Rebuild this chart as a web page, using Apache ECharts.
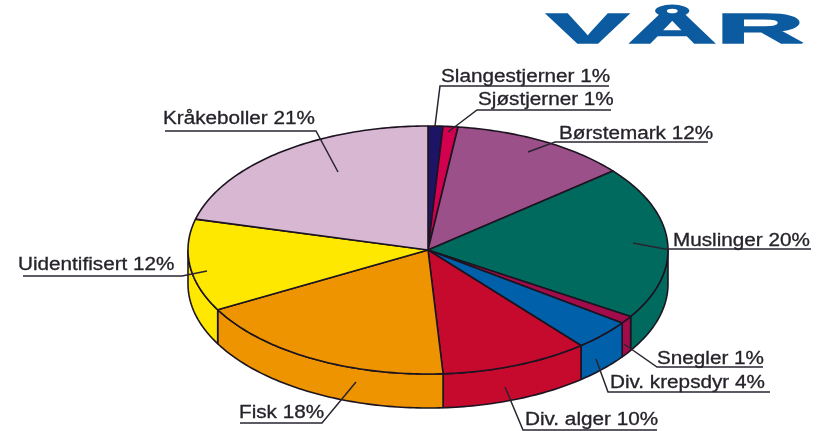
<!DOCTYPE html>
<html>
<head>
<meta charset="utf-8">
<style>
html, body { margin: 0; padding: 0; background: #fff; }
#chart { width: 821px; height: 431px; }
</style>
<script src="https://cdn.jsdelivr.net/npm/echarts@6/dist/echarts.min.js"></script>
</head>
<body>
<div id="chart"></div>
<script>
var names = ['Slangestjerner', 'Sjøstjerner', 'Børstemark', 'Muslinger', 'Snegler',
    'Div. krepsdyr', 'Div. alger', 'Fisk', 'Uidentifisert', 'Kråkeboller'];
var shares = [1, 1, 12, 20, 1, 4, 10, 18, 12, 21];
var colors = ['#1d1466', '#d3004f', '#9c5089', '#006a5f', '#a20c4b',
    '#0060a9', '#c60a2e', '#ee9400', '#ffe800', '#d8b7d3'];

// pie geometry, tilted by hand since echarts has no 3d pie
var cx = 428, cy = 250, rx = 240, ry = 124, depth = 34;
var lineColor = '#1c1420';
var total = shares.reduce(function (a, b) { return a + b; }, 0);

// angle counted clockwise from the top, in degrees
function rimPoint(deg, drop) {
    var t = deg * Math.PI / 180;
    return [cx + rx * Math.sin(t), cy - ry * Math.cos(t) + (drop || 0)];
}

function arcPoints(from, to, drop) {
    var pts = [];
    for (var d = from; d < to; d += 1) {
        pts.push(rimPoint(d, drop));
    }
    pts.push(rimPoint(to, drop));
    return pts;
}

function renderSlice(params, api) {
    var i = params.dataIndex;
    var before = 0;
    for (var k = 0; k < i; k++) {
        before += shares[k];
    }
    var start = before / total * 360;
    var end = start + api.value(0) / total * 360;
    var children = [];

    // side wall, only the front half of the rim shows
    var wallFrom = Math.max(start, 90), wallTo = Math.min(end, 270);
    if (wallFrom < wallTo) {
        children.push({
            type: 'polygon',
            shape: { points: arcPoints(wallFrom, wallTo, 0).concat(arcPoints(wallFrom, wallTo, depth).reverse()) },
            style: { fill: colors[i], stroke: lineColor, lineWidth: 1.6, lineJoin: 'round' }
        });
    }
    children.push({
        type: 'polygon',
        shape: { points: [[cx, cy]].concat(arcPoints(start, end, 0)) },
        style: { fill: colors[i], stroke: lineColor, lineWidth: 1.6, lineJoin: 'round' }
    });
    return { type: 'group', children: children };
}

// where each label sits and how its leader runs, same order as names
var labelLayout = [
    { x: 441, y: 77, leader: [[609, 86], [440, 86], [435, 126]] },
    { x: 478, y: 100, leader: [[611, 110], [477, 110], [448, 132]] },
    { x: 559, y: 134, leader: [[708, 142], [555, 142], [528, 152]] },
    { x: 673, y: 241, leader: [[811, 249], [665, 249], [633, 243]] },
    { x: 657, y: 359, leader: [[763, 367], [657, 367], [624, 344]] },
    { x: 610, y: 383, leader: [[770, 392], [608, 392], [596, 359]] },
    { x: 525, y: 420, leader: [[657, 430], [523, 430], [505, 387]] },
    { x: 239, y: 413, leader: [[240, 423], [322, 423], [356, 382]] },
    { x: 18, y: 265, leader: [[23, 276], [182, 276], [207, 271]] },
    { x: 163, y: 119, leader: [[165, 131], [316, 131], [338, 172]] }
];

var graphics = [];
names.forEach(function (name, i) {
    var item = labelLayout[i];
    graphics.push({
        type: 'polyline',
        z: 10,
        shape: { points: item.leader },
        style: { fill: null, stroke: '#2a2430', lineWidth: 1.5 }
    });
    graphics.push({
        type: 'text',
        z: 11,
        x: item.x,
        y: item.y,
        scaleX: 1.15,
        style: {
            text: name + ' ' + shares[i] + '%',
            font: '18px "Liberation Sans", Arial, sans-serif',
            fill: '#26222a',
            stroke: '#26222a',
            lineWidth: 0.3,
            verticalAlign: 'middle'
        }
    });
});
// the wordmark in the top corner
graphics.push({
    type: 'text',
    z: 11,
    x: 547,
    y: 31,
    scaleX: 2.9,
    style: {
        text: 'VÅR',
        font: 'bold 42px "Liberation Sans", Arial, sans-serif',
        fill: '#0c5a9f',
        stroke: '#0c5a9f',
        lineWidth: 1.4,
        verticalAlign: 'middle'
    }
});

var myChart = echarts.init(document.getElementById('chart'));
myChart.setOption({
    animation: false,
    backgroundColor: '#fff',
    series: [{
        type: 'custom',
        coordinateSystem: 'none',
        renderItem: renderSlice,
        data: shares.map(function (v, i) { return { name: names[i], value: [v] }; })
    }],
    graphic: graphics
});
</script>
</body>
</html>
